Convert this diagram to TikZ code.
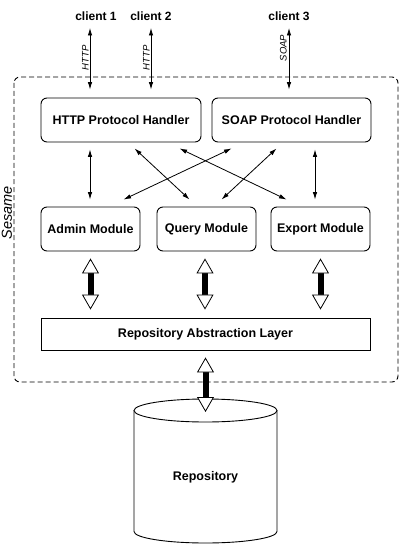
\documentclass[tikz,border=0pt]{standalone}
\usepackage{fontspec}
\setmainfont{Liberation Sans}
\usetikzlibrary{arrows.meta,calc}
\begin{document}
\begin{tikzpicture}[x=1pt,y=-1pt,
  box/.style={draw, line width=0.9pt, rounded corners=6pt, inner sep=0pt,
    font=\bfseries\fontsize{12.5}{14}\selectfont},
  lbl/.style={font=\bfseries\fontsize{12}{14}\selectfont, inner sep=0pt},
  proto/.style={rotate=90, anchor=base, inner sep=0pt, font=\itshape\fontsize{9.5}{11}\selectfont},
  thintip/.tip={Latex[length=7.5pt,width=4.5pt]},
  tarrow/.style={line width=0.8pt, thintip-thintip},
  fattip/.tip={Triangle[length=15pt,width=17pt,fill=white,line width=0.8pt]},
  fat/.style={line width=6pt, fattip-fattip},
]
\useasboundingbox (0,0) rectangle (404,548);

% container
\draw[line width=0.9pt, dash pattern=on 5pt off 3pt, rounded corners=6pt] (14,77) rectangle (398,382);
\node[rotate=90, anchor=base, inner sep=0pt, font=\itshape\fontsize{14.5}{17}\selectfont] (sesame) at (12,213) {Sesame};

% clients
\node[lbl] (c1) at (96,16) {client 1};
\node[lbl] (c2) at (151,16) {client 2};
\node[lbl] (c3) at (289,16) {client 3};

% boxes
\node[box, minimum width=160, minimum height=44] (http) at (121,120) {HTTP Protocol Handler};
\node[box, minimum width=159, minimum height=44] (soap) at (291.5,120) {SOAP Protocol Handler};
\node[box, minimum width=99, minimum height=44] (admin) at (90.5,229) {Admin Module};
\node[box, minimum width=99, minimum height=44] (query) at (206.5,229) {Query Module};
\node[box, minimum width=99, minimum height=44] (export) at (320.5,229) {Export Module};
\node[box, rounded corners=0pt, minimum width=329, minimum height=32] (ral) at (205.5,334) {Repository Abstraction Layer};

% client arrows
\coordinate (a1) at (90,28);
\coordinate (a2) at (151,28);
\coordinate (a3) at (289,28);
\draw[tarrow, shorten >=8pt] (a1) -- (a1 |- http.north);
\draw[tarrow, shorten >=8pt] (a2) -- (a2 |- http.north);
\draw[tarrow, shorten >=8pt] (a3) -- (a3 |- soap.north);
\node[proto] (p1) at (88.5,58) {HTTP};
\node[proto] (p2) at (149.5,58) {HTTP};
\node[proto] (p3) at (286.5,48) {SOAP};

% handler to module arrows
\draw[tarrow, shorten <=7pt, shorten >=7pt] (http.south -| 90,0) -- (admin.north -| 90,0);
\draw[tarrow] ($(http.south west)+(94,6)$) -- ($(query.north west)+(33,-7)$);
\draw[tarrow] ($(http.south west)+(139,6)$) -- ($(export.north west)+(16,-7)$);
\draw[tarrow] ($(soap.south west)+(20,6)$) -- ($(admin.north west)+(83,-7)$);
\draw[tarrow] ($(soap.south west)+(65,6)$) -- ($(query.north west)+(65,-7)$);
\draw[tarrow, shorten <=7pt, shorten >=7pt] (soap.south -| 315,0) -- (export.north -| 315,0);

% fat arrows
\draw[fat, shorten <=7pt, shorten >=8pt] (admin.south) -- (admin.south |- ral.north);
\draw[fat, shorten <=7pt, shorten >=8pt] (query.south -| 205,0) -- (ral.north -| 205,0);
\draw[fat, shorten <=7pt, shorten >=8pt] (export.south) -- (export.south |- ral.north);

% repository cylinder
\draw[line width=0.9pt] (134,410.5) -- (134,531.5) arc (180:0:71.5 and 11.5) -- (277,410.5);
\draw[line width=0.9pt, fill=white] (205.5,410.5) ellipse (71.5 and 11.5);
\node[lbl, font=\bfseries\fontsize{12.5}{14}\selectfont] (repo) at (205.5,477) {Repository};
\coordinate (repoin) at (205.5,412);
\draw[fat, shorten <=7pt] (ral.south -| repoin) -- (repoin);
\end{tikzpicture}
\end{document}
